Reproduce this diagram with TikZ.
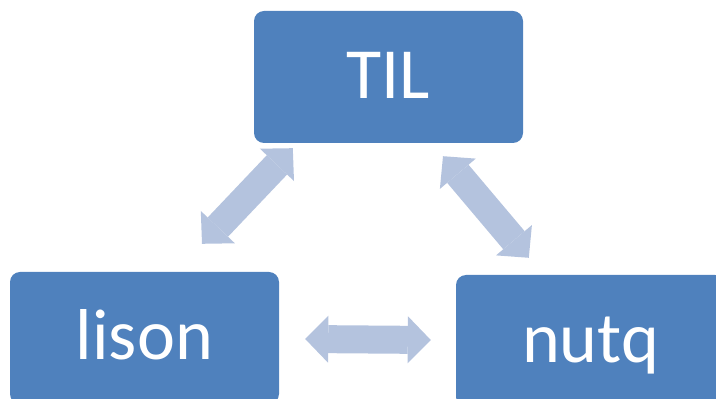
\documentclass[tikz,border=0pt]{standalone}
\usepackage{fontspec}
\setmainfont{Carlito}
\usetikzlibrary{arrows.meta}
\definecolor{boxblue}{RGB}{79,129,189}
\definecolor{arrowblue}{RGB}{180,195,222}
\begin{document}
\begin{tikzpicture}[x=1pt,y=1pt,
  box/.style={fill=boxblue,rounded corners=10pt,minimum width=269pt,minimum height=132pt,
    text=white,font=\fontsize{72}{86}\selectfont,text height=46pt,text depth=2pt,inner sep=0pt},
  link/.style={draw=arrowblue,line width=28pt,
    {Triangle[length=23pt,width=47pt,line width=0pt]}-{Triangle[length=23pt,width=47pt,line width=0pt]}}]
  \useasboundingbox (0,0) rectangle (716,399);
  \clip (0,0) rectangle (716,399);
  % three boxes of the cycle
  \node[box] (til) at (388.5,322) {TIL};
  \node[box] (lison) at (144.5,61) {lison};
  \node[box] (nutq) at (590.5,58) {nutq};
  % double arrows between them
  \draw[link] ([shift={(39,-5)}]til.south west) -- ([shift={(57.5,28)}]lison.north);
  \draw[link] ([shift={(54.5,-13)}]til.south) -- ([shift={(73,17)}]nutq.north west);
  \draw[link] ([shift={(26,-1)}]lison.east) -- ([shift={(-25,1)}]nutq.west);
\end{tikzpicture}
\end{document}
